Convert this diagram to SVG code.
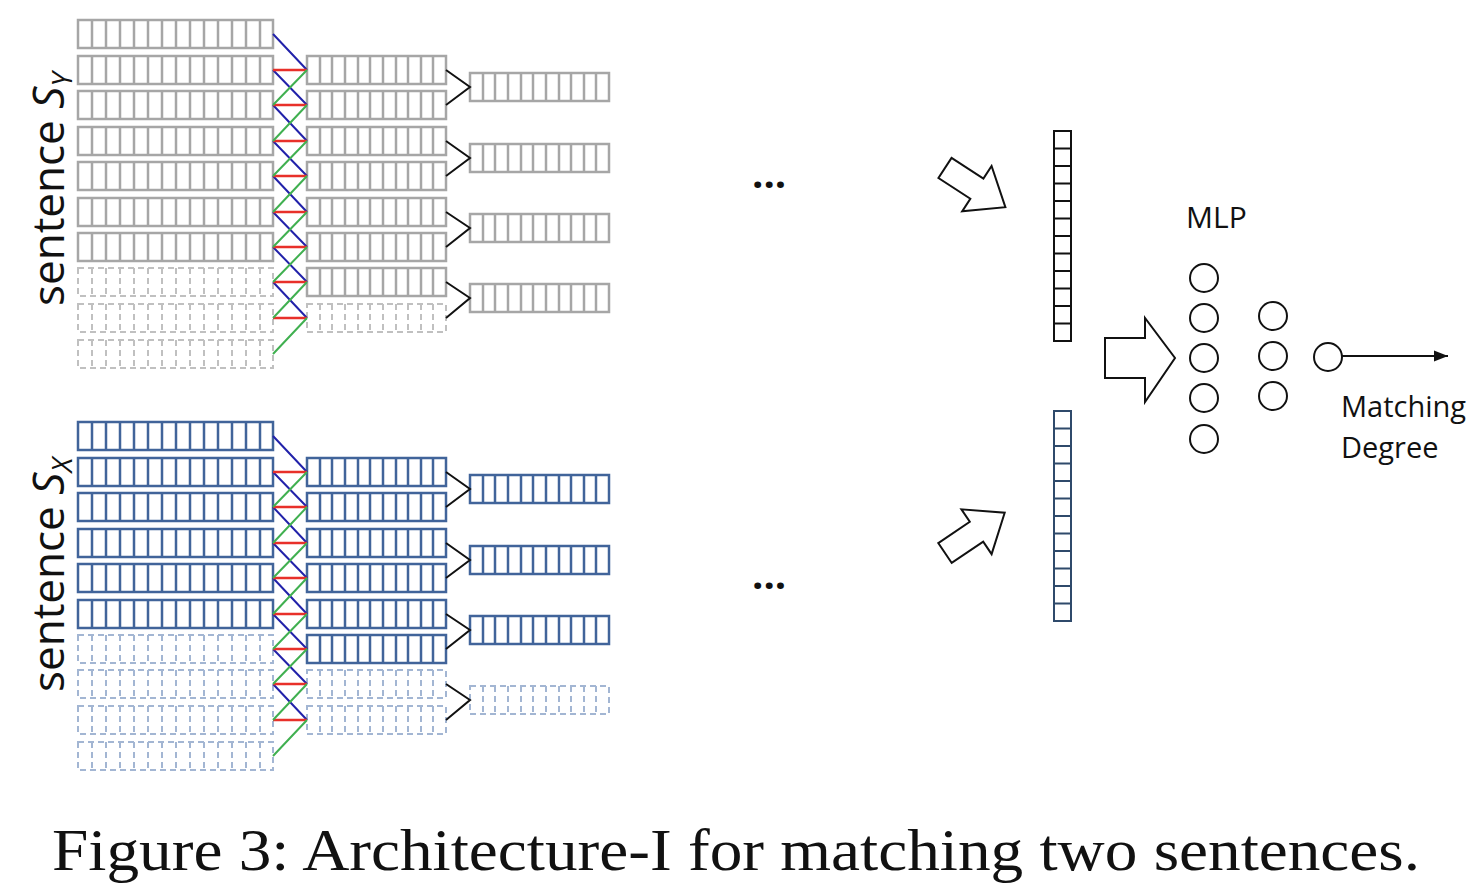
<svg xmlns="http://www.w3.org/2000/svg" width="1484" height="890" viewBox="0 0 1484 890">
<defs>
<style>
.g{fill:none;stroke:#a6a6a6;stroke-width:2.5}
.gd{fill:none;stroke:#c0c0c0;stroke-width:2;stroke-dasharray:6 4}
.b{fill:none;stroke:#41649a;stroke-width:2.5}
.bd{fill:none;stroke:#a3b6d3;stroke-width:2;stroke-dasharray:6 4}
.cb{stroke:#2222aa;stroke-width:2}
.cr{stroke:#e8302a;stroke-width:2.5}
.cg{stroke:#40b050;stroke-width:2}
.k{stroke:#111;stroke-width:2;fill:none}
.lbl{font-family:"Open Sans","Noto Sans",sans-serif;fill:#111}
</style>
<marker id="ah" viewBox="0 0 10 10" refX="10" refY="5" markerWidth="7" markerHeight="7" orient="auto"><path d="M0,1 L10,5 L0,9 z" fill="#111"/></marker>
</defs>
<rect width="1484" height="890" fill="#fff"/>
<!-- TOP -->
<g id="top-l1" >
<g class="g">
<rect x="78" y="20" width="195" height="28"/><path d="M92,20v28M106,20v28M120,20v28M134,20v28M148,20v28M162,20v28M176,20v28M190,20v28M204,20v28M218,20v28M232,20v28M246,20v28M260,20v28"/>
<rect x="78" y="56" width="195" height="28"/><path d="M92,56v28M106,56v28M120,56v28M134,56v28M148,56v28M162,56v28M176,56v28M190,56v28M204,56v28M218,56v28M232,56v28M246,56v28M260,56v28"/>
<rect x="78" y="91" width="195" height="28"/><path d="M92,91v28M106,91v28M120,91v28M134,91v28M148,91v28M162,91v28M176,91v28M190,91v28M204,91v28M218,91v28M232,91v28M246,91v28M260,91v28"/>
<rect x="78" y="127" width="195" height="28"/><path d="M92,127v28M106,127v28M120,127v28M134,127v28M148,127v28M162,127v28M176,127v28M190,127v28M204,127v28M218,127v28M232,127v28M246,127v28M260,127v28"/>
<rect x="78" y="162" width="195" height="28"/><path d="M92,162v28M106,162v28M120,162v28M134,162v28M148,162v28M162,162v28M176,162v28M190,162v28M204,162v28M218,162v28M232,162v28M246,162v28M260,162v28"/>
<rect x="78" y="198" width="195" height="28"/><path d="M92,198v28M106,198v28M120,198v28M134,198v28M148,198v28M162,198v28M176,198v28M190,198v28M204,198v28M218,198v28M232,198v28M246,198v28M260,198v28"/>
<rect x="78" y="233" width="195" height="28"/><path d="M92,233v28M106,233v28M120,233v28M134,233v28M148,233v28M162,233v28M176,233v28M190,233v28M204,233v28M218,233v28M232,233v28M246,233v28M260,233v28"/>
</g>
<g class="gd">
<rect x="78" y="268" width="195" height="28"/><path d="M92,268v28M106,268v28M120,268v28M134,268v28M148,268v28M162,268v28M176,268v28M190,268v28M204,268v28M218,268v28M232,268v28M246,268v28M260,268v28"/>
<rect x="78" y="304" width="195" height="28"/><path d="M92,304v28M106,304v28M120,304v28M134,304v28M148,304v28M162,304v28M176,304v28M190,304v28M204,304v28M218,304v28M232,304v28M246,304v28M260,304v28"/>
<rect x="78" y="340" width="195" height="28"/><path d="M92,340v28M106,340v28M120,340v28M134,340v28M148,340v28M162,340v28M176,340v28M190,340v28M204,340v28M218,340v28M232,340v28M246,340v28M260,340v28"/>
</g>
</g>
<g id="top-l2">
<g class="g">
<rect x="307" y="56" width="139" height="28"/><path d="M320,56v28M332,56v28M345,56v28M358,56v28M370,56v28M383,56v28M396,56v28M408,56v28M421,56v28M433,56v28"/>
<rect x="307" y="91" width="139" height="28"/><path d="M320,91v28M332,91v28M345,91v28M358,91v28M370,91v28M383,91v28M396,91v28M408,91v28M421,91v28M433,91v28"/>
<rect x="307" y="127" width="139" height="28"/><path d="M320,127v28M332,127v28M345,127v28M358,127v28M370,127v28M383,127v28M396,127v28M408,127v28M421,127v28M433,127v28"/>
<rect x="307" y="162" width="139" height="28"/><path d="M320,162v28M332,162v28M345,162v28M358,162v28M370,162v28M383,162v28M396,162v28M408,162v28M421,162v28M433,162v28"/>
<rect x="307" y="198" width="139" height="28"/><path d="M320,198v28M332,198v28M345,198v28M358,198v28M370,198v28M383,198v28M396,198v28M408,198v28M421,198v28M433,198v28"/>
<rect x="307" y="233" width="139" height="28"/><path d="M320,233v28M332,233v28M345,233v28M358,233v28M370,233v28M383,233v28M396,233v28M408,233v28M421,233v28M433,233v28"/>
<rect x="307" y="268" width="139" height="28"/><path d="M320,268v28M332,268v28M345,268v28M358,268v28M370,268v28M383,268v28M396,268v28M408,268v28M421,268v28M433,268v28"/>
</g>
<g class="gd">
<rect x="307" y="304" width="139" height="28"/><path d="M320,304v28M332,304v28M345,304v28M358,304v28M370,304v28M383,304v28M396,304v28M408,304v28M421,304v28M433,304v28"/>
</g>
</g>
<g id="top-l3" class="g">
<rect x="470" y="73" width="139" height="28"/><path d="M483,73v28M495,73v28M508,73v28M521,73v28M533,73v28M546,73v28M559,73v28M571,73v28M584,73v28M596,73v28"/>
<rect x="470" y="144" width="139" height="28"/><path d="M483,144v28M495,144v28M508,144v28M521,144v28M533,144v28M546,144v28M559,144v28M571,144v28M584,144v28M596,144v28"/>
<rect x="470" y="214" width="139" height="28"/><path d="M483,214v28M495,214v28M508,214v28M521,214v28M533,214v28M546,214v28M559,214v28M571,214v28M584,214v28M596,214v28"/>
<rect x="470" y="284" width="139" height="28"/><path d="M483,284v28M495,284v28M508,284v28M521,284v28M533,284v28M546,284v28M559,284v28M571,284v28M584,284v28M596,284v28"/>
</g>
<!-- BOTTOM -->
<g id="bot-l1">
<g class="b">
<rect x="78" y="422" width="195" height="28"/><path d="M92,422v28M106,422v28M120,422v28M134,422v28M148,422v28M162,422v28M176,422v28M190,422v28M204,422v28M218,422v28M232,422v28M246,422v28M260,422v28"/>
<rect x="78" y="458" width="195" height="28"/><path d="M92,458v28M106,458v28M120,458v28M134,458v28M148,458v28M162,458v28M176,458v28M190,458v28M204,458v28M218,458v28M232,458v28M246,458v28M260,458v28"/>
<rect x="78" y="493" width="195" height="28"/><path d="M92,493v28M106,493v28M120,493v28M134,493v28M148,493v28M162,493v28M176,493v28M190,493v28M204,493v28M218,493v28M232,493v28M246,493v28M260,493v28"/>
<rect x="78" y="529" width="195" height="28"/><path d="M92,529v28M106,529v28M120,529v28M134,529v28M148,529v28M162,529v28M176,529v28M190,529v28M204,529v28M218,529v28M232,529v28M246,529v28M260,529v28"/>
<rect x="78" y="564" width="195" height="28"/><path d="M92,564v28M106,564v28M120,564v28M134,564v28M148,564v28M162,564v28M176,564v28M190,564v28M204,564v28M218,564v28M232,564v28M246,564v28M260,564v28"/>
<rect x="78" y="600" width="195" height="28"/><path d="M92,600v28M106,600v28M120,600v28M134,600v28M148,600v28M162,600v28M176,600v28M190,600v28M204,600v28M218,600v28M232,600v28M246,600v28M260,600v28"/>
</g>
<g class="bd">
<rect x="78" y="635" width="195" height="28"/><path d="M92,635v28M106,635v28M120,635v28M134,635v28M148,635v28M162,635v28M176,635v28M190,635v28M204,635v28M218,635v28M232,635v28M246,635v28M260,635v28"/>
<rect x="78" y="670" width="195" height="28"/><path d="M92,670v28M106,670v28M120,670v28M134,670v28M148,670v28M162,670v28M176,670v28M190,670v28M204,670v28M218,670v28M232,670v28M246,670v28M260,670v28"/>
<rect x="78" y="706" width="195" height="28"/><path d="M92,706v28M106,706v28M120,706v28M134,706v28M148,706v28M162,706v28M176,706v28M190,706v28M204,706v28M218,706v28M232,706v28M246,706v28M260,706v28"/>
<rect x="78" y="742" width="195" height="28"/><path d="M92,742v28M106,742v28M120,742v28M134,742v28M148,742v28M162,742v28M176,742v28M190,742v28M204,742v28M218,742v28M232,742v28M246,742v28M260,742v28"/>
</g>
</g>
<g id="bot-l2">
<g class="b">
<rect x="307" y="458" width="139" height="28"/><path d="M320,458v28M332,458v28M345,458v28M358,458v28M370,458v28M383,458v28M396,458v28M408,458v28M421,458v28M433,458v28"/>
<rect x="307" y="493" width="139" height="28"/><path d="M320,493v28M332,493v28M345,493v28M358,493v28M370,493v28M383,493v28M396,493v28M408,493v28M421,493v28M433,493v28"/>
<rect x="307" y="529" width="139" height="28"/><path d="M320,529v28M332,529v28M345,529v28M358,529v28M370,529v28M383,529v28M396,529v28M408,529v28M421,529v28M433,529v28"/>
<rect x="307" y="564" width="139" height="28"/><path d="M320,564v28M332,564v28M345,564v28M358,564v28M370,564v28M383,564v28M396,564v28M408,564v28M421,564v28M433,564v28"/>
<rect x="307" y="600" width="139" height="28"/><path d="M320,600v28M332,600v28M345,600v28M358,600v28M370,600v28M383,600v28M396,600v28M408,600v28M421,600v28M433,600v28"/>
<rect x="307" y="635" width="139" height="28"/><path d="M320,635v28M332,635v28M345,635v28M358,635v28M370,635v28M383,635v28M396,635v28M408,635v28M421,635v28M433,635v28"/>
</g>
<g class="bd">
<rect x="307" y="670" width="139" height="28"/><path d="M320,670v28M332,670v28M345,670v28M358,670v28M370,670v28M383,670v28M396,670v28M408,670v28M421,670v28M433,670v28"/>
<rect x="307" y="706" width="139" height="28"/><path d="M320,706v28M332,706v28M345,706v28M358,706v28M370,706v28M383,706v28M396,706v28M408,706v28M421,706v28M433,706v28"/>
</g>
</g>
<g id="bot-l3">
<g class="b">
<rect x="470" y="475" width="139" height="28"/><path d="M483,475v28M495,475v28M508,475v28M521,475v28M533,475v28M546,475v28M559,475v28M571,475v28M584,475v28M596,475v28"/>
<rect x="470" y="546" width="139" height="28"/><path d="M483,546v28M495,546v28M508,546v28M521,546v28M533,546v28M546,546v28M559,546v28M571,546v28M584,546v28M596,546v28"/>
<rect x="470" y="616" width="139" height="28"/><path d="M483,616v28M495,616v28M508,616v28M521,616v28M533,616v28M546,616v28M559,616v28M571,616v28M584,616v28M596,616v28"/>
</g>
<g class="bd">
<rect x="470" y="686" width="139" height="28"/><path d="M483,686v28M495,686v28M508,686v28M521,686v28M533,686v28M546,686v28M559,686v28M571,686v28M584,686v28M596,686v28"/>
</g>
</g>
<g id="connectors">
<g class="cb">
<path d="M273,34L307,70M273,70L307,105M273,105L307,141M273,141L307,176M273,176L307,212M273,212L307,247M273,247L307,282M273,282L307,318"/>
<path d="M273,436L307,472M273,472L307,507M273,507L307,543M273,543L307,578M273,578L307,614M273,614L307,649M273,649L307,684M273,684L307,720"/>
</g>
<g class="cr">
<path d="M273,70H307M273,105H307M273,141H307M273,176H307M273,212H307M273,247H307M273,282H307M273,318H307"/>
<path d="M273,472H307M273,507H307M273,543H307M273,578H307M273,614H307M273,649H307M273,684H307M273,720H307"/>
</g>
<g class="cg">
<path d="M273,105L307,70M273,141L307,105M273,176L307,141M273,212L307,176M273,247L307,212M273,282L307,247M273,318L307,282M273,354L307,318"/>
<path d="M273,507L307,472M273,543L307,507M273,578L307,543M273,614L307,578M273,649L307,614M273,684L307,649M273,720L307,684M273,756L307,720"/>
</g>
<g class="k">
<path d="M446,70L470,87L446,105M446,141L470,158L446,176M446,212L470,228L446,247M446,282L470,298L446,318"/>
<path d="M446,472L470,489L446,507M446,543L470,560L446,578M446,614L470,630L446,649M446,684L470,700L446,720"/>
</g>
<path class="k" d="M1342,356H1448" marker-end="url(#ah)"/>
</g>
<g id="labels">
<text class="lbl" transform="translate(64,306) rotate(-90)" font-size="44">sentence <tspan font-style="italic">S</tspan><tspan font-style="italic" font-size="28" dy="8">Y</tspan></text>
<text class="lbl" transform="translate(64,692) rotate(-90)" font-size="44">sentence <tspan font-style="italic">S</tspan><tspan font-style="italic" font-size="28" dy="8">X</tspan></text>
<text class="lbl" x="752" y="188" font-size="40" font-weight="bold">...</text>
<text class="lbl" x="752" y="589" font-size="40" font-weight="bold">...</text>
<text class="lbl" x="1186" y="228" font-size="30">MLP</text>
<text class="lbl" x="1341" y="417" font-size="29">Matching</text>
<text class="lbl" x="1341" y="458" font-size="29">Degree</text>
<text x="52" y="870" font-family="'Liberation Serif',serif" font-size="60" fill="#111" textLength="1368" lengthAdjust="spacingAndGlyphs">Figure 3: Architecture-I for matching two sentences.</text>
</g>
<g id="arrows" fill="#fff" stroke="#111" stroke-width="2">
<path transform="translate(945,168) rotate(33)" d="M0,-12H38V-27L72,0L38,27V12H0Z"/>
<path transform="translate(945,553) rotate(-34)" d="M0,-12H38V-27L72,0L38,27V12H0Z"/>
<path d="M1105,338H1145V318L1175,358L1145,402V378H1105Z"/>
</g>
<g id="vectors" fill="#fff" stroke-width="2">
<g stroke="#111"><rect x="1054" y="131" width="17" height="210"/><path d="M1054,148.5h17M1054,166h17M1054,183.5h17M1054,201h17M1054,218.5h17M1054,236h17M1054,253.5h17M1054,271h17M1054,288.5h17M1054,306h17M1054,323.5h17"/></g>
<g stroke="#2f4a6b"><rect x="1054" y="411" width="17" height="210"/><path d="M1054,428.5h17M1054,446h17M1054,463.5h17M1054,481h17M1054,498.5h17M1054,516h17M1054,533.5h17M1054,551h17M1054,568.5h17M1054,586h17M1054,603.5h17"/></g>
</g>
<g id="mlp" fill="#fff" stroke="#111" stroke-width="2">
<circle cx="1204" cy="278" r="14"/><circle cx="1204" cy="318" r="14"/><circle cx="1204" cy="358" r="14"/><circle cx="1204" cy="398" r="14"/><circle cx="1204" cy="439" r="14"/>
<circle cx="1273" cy="316" r="14"/><circle cx="1273" cy="356" r="14"/><circle cx="1273" cy="396" r="14"/>
<circle cx="1328" cy="357" r="14"/>
</g>
</svg>
